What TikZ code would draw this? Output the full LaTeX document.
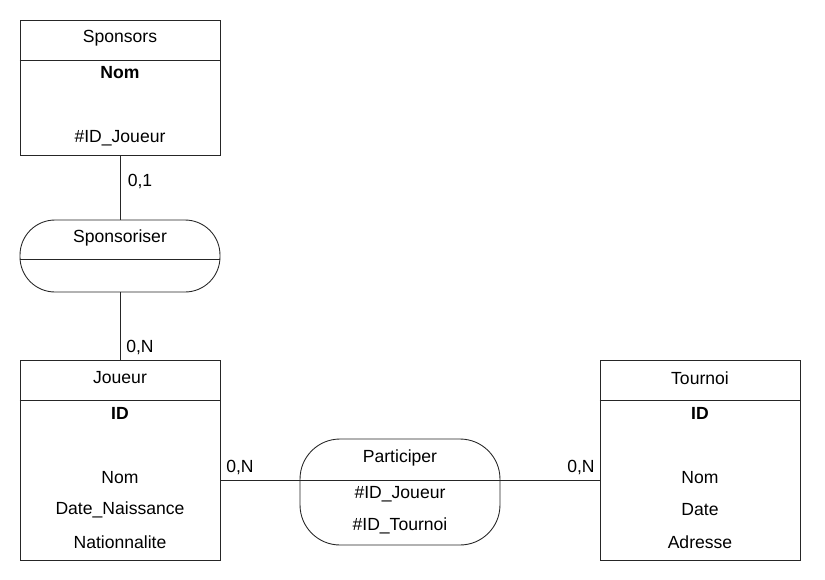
\documentclass[tikz,border=0pt]{standalone}
\usepackage{fontspec}
\setmainfont{Liberation Sans}
\usetikzlibrary{positioning}

\begin{document}
\begin{tikzpicture}
[x=0.02cm, y=-0.02cm, font=\fontsize{10}{12}\selectfont, line width=0.5pt, draw=black!85,
every node/.style={inner sep=0 pt, anchor=center},
entity/.style={draw, rectangle, minimum width=4cm},
relation/.style={draw, rectangle, minimum width=4cm, rounded corners=0.7cm}
]

\useasboundingbox (0,0) rectangle (825,579) ;

% boxes
\node[entity, minimum height=2.71cm] (S) at (120,87.75) {} ;
\node[relation, minimum height=1.44cm] (SP) at (120,256) {} ;
\node[entity, minimum height=4cm] (J) at (120,460) {} ;
\node[entity, minimum height=4cm] (T) at (700,460) {} ;
\node[relation, minimum height=2.12cm, rounded corners=0.8cm] (P) at (400,492) {} ;

% header lines
\draw (S.north west) +(0,40.5) -- +(200,40.5) ;
\draw (SP.north west) +(0,39.5) -- +(200,39.5) ;
\draw (J.north west) +(0,40.5) -- +(200,40.5) ;
\draw (T.north west) +(0,40.5) -- +(200,40.5) ;

% texts
\path
(120,38) node (S0) {Sponsors}
(120,73) node (S1) {\bfseries Nom}
(120,138) node (S2) {\#ID\_Joueur}
(120,238) node (SP0) {Sponsoriser}
(400,458) node (P0) {Participer}
(400,494) node (P1) {\#ID\_Joueur}
(400,526) node (P2) {\#ID\_Tournoi}
;

\path
foreach \n/\x/\t in {J/120/Joueur, T/700/Tournoi}
{(\x,378) node (\n0) {\t}
 (\x,413) node (\n1) {\bfseries ID}
 (\x,478) node (\n2) {Nom}}
(120,510) node (J3) {Date\_Naissance}
(120,542) node (J4) {Nationnalite}
(700,510) node (T3) {Date}
(700,542) node (T4) {Adresse}
;

% cardinalities
\path
(140,181) node (c1) {0,1}
(140,347) node (c2) {0,N}
(240,467) node (c3) {0,N}
(581,467) node (c4) {0,N}
;

% draw links
\coordinate (pl) at (300,480) ;
\coordinate (pr) at (500,480) ;
\begin{scope}
\draw (S.south) -- (SP.north) ;
\draw (SP.south) -- (J.north) ;
\draw (J.east |- pl) -- (pl) -- (pr) -- (T.west |- pr) ;
\end{scope}

\end{tikzpicture}
\end{document}
